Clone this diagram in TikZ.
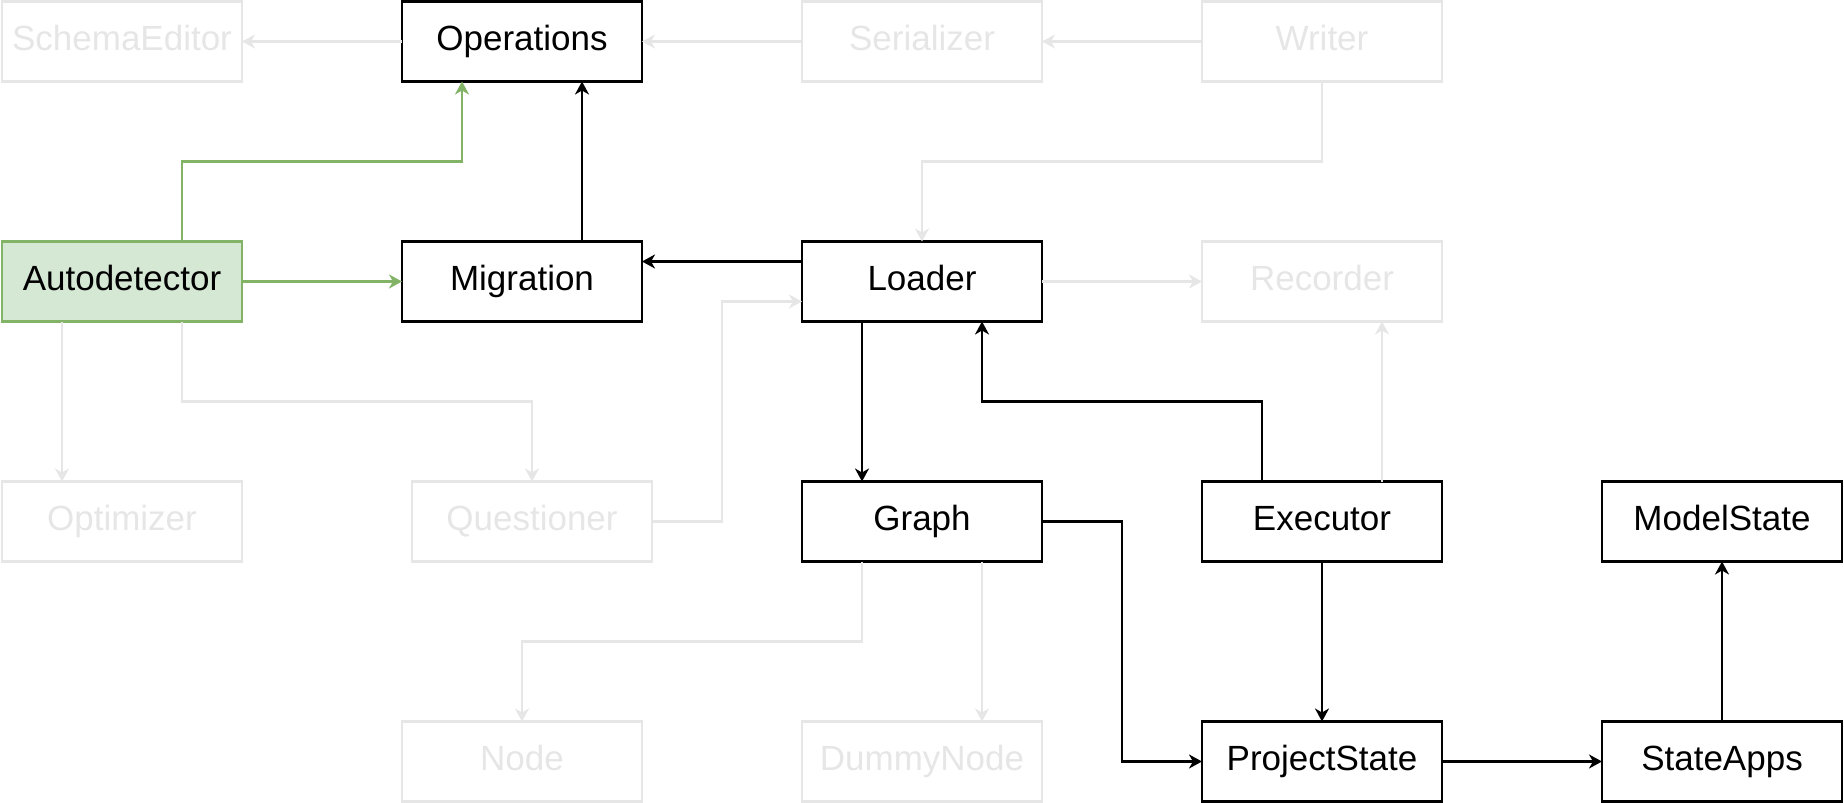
\documentclass[tikz,border=0pt]{standalone}
\usepackage{fontspec}
\setmainfont{Liberation Sans}
\usepackage{tikz}
\usetikzlibrary{
        arrows.meta,
        positioning
    }
\definecolor{fadegray}{HTML}{E6E6E6}
\definecolor{focusfill}{HTML}{D5E8D4}
\definecolor{focusline}{HTML}{82B366}
\tikzset{>={Stealth[length=6.5pt,width=7pt,inset=2pt]},node distance=80pt}
\tikzset{
    class/.style={draw,line width=1.3pt,minimum width=120pt,minimum height=40pt,
        inner sep=0pt,outer sep=0pt,text height=13pt,text depth=4pt,
        font=\fontsize{17.5}{21}\selectfont},
    faded/.style={class,draw=fadegray,text=fadegray},
    focus/.style={class,draw=focusline,fill=focusfill},
    every edge/.append style={line width=1.3pt}
}

\begin{document}
\begin{tikzpicture}[line width=1.3pt]
    % top row
    \node[faded] (schema) {SchemaEditor};
    \node[class] (ops) [right=of schema] {Operations};
    \node[faded] (ser) [right=of ops] {Serializer};
    \node[faded] (writer) [right=of ser] {Writer};
    % second row
    \node[focus] (auto) [below=of schema] {Autodetector};
    \node[class] (mig) [right=of auto] {Migration};
    \node[class] (loader) [right=of mig] {Loader};
    \node[faded] (rec) [right=of loader] {Recorder};
    % third row
    \node[faded] (opt) [below=of auto] {Optimizer};
    \node[faded] (quest) [below=of mig,xshift=5pt] {Questioner};
    \node[class] (graph) [below=of loader] {Graph};
    \node[class] (exec) [below=of rec] {Executor};
    \node[class] (model) [right=of exec] {ModelState};
    % bottom row
    \node[faded] (nd) [below=of quest,xshift=-5pt] {Node};
    \node[faded] (dummy) [below=of graph] {DummyNode};
    \node[class] (pstate) [below=of exec] {ProjectState};
    \node[class] (apps) [below=of model] {StateApps};

    % faded connectors
    \path[->,color=fadegray]
        (ops)  edge (schema)
        (ser)  edge (ops)
        (writer) edge (ser)
        (loader) edge (rec)
        ([xshift=-30pt]auto.south) edge ([xshift=-30pt]opt.north)
        ([xshift=30pt]exec.north) edge ([xshift=30pt]rec.south)
        ([xshift=30pt]graph.south) edge ([xshift=30pt]dummy.north);
    \draw[->,fadegray] (writer.south) -- ++(0,-40pt) -| (loader.north);
    \draw[->,fadegray] ([xshift=30pt]auto.south) -- ++(0,-40pt) -| (quest.north);
    \draw[->,fadegray] (quest.east) -- ++(35pt,0) |- ([yshift=-10pt]loader.west);
    \draw[->,fadegray] ([xshift=-30pt]graph.south) -- ++(0,-40pt) -| (nd.north);

    % autodetector
    \path[->,color=focusline]
        (auto) edge (mig);
    \draw[->,focusline] ([xshift=30pt]auto.north) -- ++(0,40pt) -| ([xshift=-30pt]ops.south);

    % main flow
    \path[->]
        ([xshift=30pt]mig.north) edge ([xshift=30pt]ops.south)
        ([yshift=10pt]loader.west) edge ([yshift=10pt]mig.east)
        ([xshift=-30pt]loader.south) edge ([xshift=-30pt]graph.north)
        (exec)   edge (pstate)
        (pstate) edge (apps)
        (apps)   edge (model);
    \draw[->] ([xshift=-30pt]exec.north) -- ++(0,40pt) -| ([xshift=30pt]loader.south);
    \draw[->] (graph.east) -- ++(40pt,0) |- (pstate.west);

    \useasboundingbox ([shift={(-1pt,0.75pt)}]schema.north west) rectangle ([shift={(1pt,-0.75pt)}]apps.south east);
\end{tikzpicture}
\end{document}
